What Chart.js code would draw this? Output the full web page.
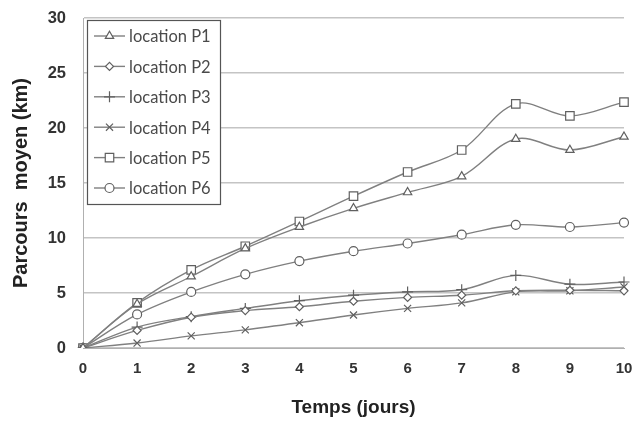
<!DOCTYPE html>
<html>
<head>
<meta charset="utf-8">
<script src="https://cdn.jsdelivr.net/npm/chart.js@4"></script>
<style>
  html, body { margin: 0; padding: 0; background: #fff; }
  #wrap { width: 634px; height: 423px; position: relative; }
</style>
</head>
<body>
<div id="wrap"><canvas id="chart"></canvas></div>
<script>
const days = ['0', '1', '2', '3', '4', '5', '6', '7', '8', '9', '10'];
const seriesNames = ['location P1', 'location P2', 'location P3', 'location P4', 'location P5', 'location P6'];
const p1 = [0, 4.0, 6.5, 9.05, 11.0, 12.7, 14.15, 15.6, 19.0, 18.0, 19.2];
const p2 = [0, 1.6, 2.8, 3.4, 3.75, 4.25, 4.6, 4.8, 5.2, 5.25, 5.2];
const p3 = [0, 1.9, 2.85, 3.6, 4.3, 4.8, 5.1, 5.3, 6.6, 5.8, 6.0];
const p4 = [0, 0.45, 1.1, 1.65, 2.3, 3.0, 3.6, 4.1, 5.1, 5.2, 5.55];
const p5 = [0, 4.1, 7.1, 9.25, 11.5, 13.8, 16.0, 18.0, 22.2, 21.1, 22.35];
const p6 = [0, 3.05, 5.1, 6.7, 7.9, 8.8, 9.5, 10.3, 11.2, 11.0, 11.4];
const yTicks = [0, 5, 10, 15, 20, 25, 30];

const lineColor = '#808080';
const markers = [
    { style: 'triangle', r: 4.8 },
    { style: 'rectRot', r: 4 },
    { style: 'cross', r: 5.5 },
    { style: 'crossRot', r: 5 },
    { style: 'rect', r: 6 },
    { style: 'circle', r: 4.5 }
];

function makeDataset(i, values) {
    return {
        label: seriesNames[i],
        data: values,
        borderColor: lineColor,
        borderWidth: 1.4,
        backgroundColor: '#ffffff',
        pointStyle: markers[i].style,
        pointRadius: markers[i].r,
        pointBorderColor: '#606060',
        pointBackgroundColor: '#ffffff',
        pointBorderWidth: 1.2,
        tension: 0.35,
        fill: false
    };
}

// legend drawn inside the plot with a frame, like the original
const boxLegend = {
    id: 'boxLegend',
    afterDraw(chart) {
        const ctx = chart.ctx;
        const x0 = 87, y0 = 20, w = 133, h = 184;
        ctx.save();
        ctx.fillStyle = '#ffffff';
        ctx.fillRect(x0, y0, w, h);
        ctx.strokeStyle = '#555';
        ctx.lineWidth = 1.2;
        ctx.strokeRect(x0 + 0.5, y0 + 0.5, w, h);
        chart.data.datasets.forEach((ds, i) => {
            const y = 36 + i * 30.4;
            ctx.strokeStyle = lineColor;
            ctx.lineWidth = 1.4;
            ctx.beginPath();
            ctx.moveTo(94, y);
            ctx.lineTo(125, y);
            ctx.stroke();
            ctx.strokeStyle = '#606060';
            ctx.fillStyle = '#ffffff';
            ctx.lineWidth = 1.2;
            Chart.helpers.drawPoint(ctx, {
                pointStyle: ds.pointStyle,
                radius: ds.pointRadius,
                rotation: 0,
                borderWidth: 1.2
            }, 109.5, y);
            ctx.fillStyle = '#4a4a4a';
            ctx.font = '16.5px Lato';
            ctx.textBaseline = 'middle';
            ctx.textAlign = 'left';
            ctx.fillText(ds.label, 129, y + 1);
        });
        ctx.restore();
    }
};

const whiteBg = {
    id: 'whiteBg',
    beforeDraw(chart) {
        const ctx = chart.ctx;
        ctx.save();
        ctx.fillStyle = '#ffffff';
        ctx.fillRect(0, 0, chart.width, chart.height);
        ctx.restore();
    }
};

new Chart(document.getElementById('chart'), {
    type: 'line',
    data: {
        labels: days,
        datasets: [p1, p2, p3, p4, p5, p6].map((v, i) => makeDataset(i, v))
    },
    options: {
        responsive: true,
        maintainAspectRatio: false,
        animation: false,
        layout: { padding: { left: 0, right: 10, top: 18, bottom: 0 } },
        plugins: {
            legend: { display: false },
            tooltip: { enabled: false }
        },
        scales: {
            x: {
                offset: false,
                grid: { display: false, drawTicks: false },
                border: { color: '#b0b0b0' },
                ticks: {
                    color: '#333',
                    font: { family: 'Liberation Sans', size: 15, weight: 'bold' },
                    padding: 12,
                    maxRotation: 0
                },
                title: {
                    display: true,
                    text: 'Temps (jours)',
                    color: '#222',
                    font: { family: 'Liberation Sans', size: 19, weight: 'bold' },
                    padding: { top: 8 }
                },
                afterFit(scale) {
                    scale.height = 75;
                    scale.paddingLeft = 0;
                    scale.paddingRight = 0;
                }
            },
            y: {
                min: 0,
                max: 30,
                afterBuildTicks(scale) { scale.ticks = yTicks.map(v => ({ value: v })); },
                grid: { color: '#c4c4c4', lineWidth: 1.4, drawTicks: false },
                border: { color: '#b0b0b0' },
                ticks: {
                    color: '#333',
                    font: { family: 'Liberation Sans', size: 16.5, weight: 'bold' },
                    padding: 17
                },
                title: {
                    display: true,
                    text: 'Parcours  moyen (km)',
                    color: '#222',
                    font: { family: 'Liberation Sans', size: 20, weight: 'bold' },
                    padding: { top: 9, bottom: 0 }
                },
                afterFit(scale) {
                    scale.width = 83;
                    scale.paddingTop = 0;
                    scale.paddingBottom = 0;
                }
            }
        }
    },
    plugins: [whiteBg, boxLegend]
});
</script>
</body>
</html>
